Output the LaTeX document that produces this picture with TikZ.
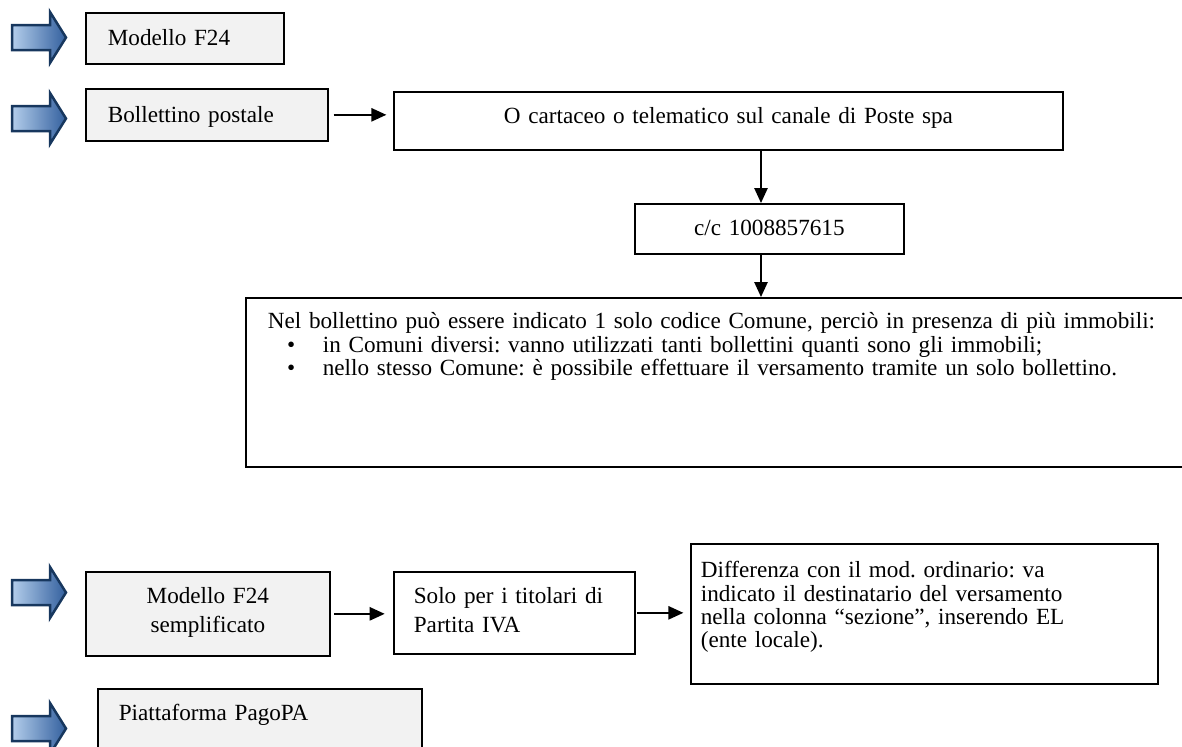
\documentclass[tikz,border=0pt]{standalone}
\usepackage{fontspec}
\setmainfont{Liberation Serif}
\usetikzlibrary{arrows.meta}
\definecolor{boxgrey}{HTML}{F2F2F2}
\definecolor{arrowline}{HTML}{17375E}
\definecolor{arrowlight}{HTML}{B3CDEB}
\definecolor{arrowdark}{HTML}{33609E}

\tikzset{
  box/.style={draw, line width=1pt, inner ysep=0pt, anchor=north west, align=left},
  greybox/.style={box, fill=boxgrey},
  link/.style={line width=1pt, -{Triangle[length=9pt,width=8pt]}},
}
\newcommand{\bigbullet}{\hspace*{11.5pt}\makebox[21.5pt][l]{\textbullet}}

\begin{document}
\frenchspacing
\begin{tikzpicture}[x=0.6pt, y=-0.6pt, every node/.style={font=\fontsize{13.9}{15}\selectfont}]
  \clip (0,0) rectangle (1182,747);
  % blue block arrows on the left
  \foreach \y in {12,93,567,703}
    \draw [arrowline, line width=1.5pt, left color=arrowlight, right color=arrowdark]
      (12,\y+13) -- (50,\y+13) -- (50,\y) -- (66,\y+25.5) -- (50,\y+51) -- (50,\y+38) -- (12,\y+38) -- cycle;

  \node [greybox, inner xsep=13.2pt, text width=92.4pt, text height=19.8pt, text depth=10.8pt] (f24) at (85,12) {Modello F24};
  \node [greybox, inner xsep=13.2pt, text width=118.8pt, text height=20.4pt, text depth=10.8pt] (bp) at (85,88) {Bollettino postale};
  \node [box, inner xsep=0pt, text width=401.4pt, align=center, text height=19.2pt, text depth=15.6pt] (tel) at (393,91) {O cartaceo o telematico sul canale di Poste spa};
  \node [box, inner xsep=0pt, text width=161.4pt, align=center, text height=19.2pt, text depth=10.8pt] (cc) at (634,203) {c/c 1008857615};
  \node [box, inner xsep=13.2pt, text width=546.6pt, text height=18.6pt, text depth=82.8pt, font=\fontsize{13.9}{14}\selectfont] (big) at (245,297)
    {Nel bollettino può essere indicato 1 solo codice Comune, perciò in presenza di più immobili:\\
     \bigbullet in Comuni diversi: vanno utilizzati tanti bollettini quanti sono gli immobili;\\
     \bigbullet nello stesso Comune: è possibile effettuare il versamento tramite un solo bollettino.};

  % F24 semplificato row
  \node [greybox, inner xsep=0pt, text width=146.4pt, align=center, text height=19.2pt, text depth=31.2pt, font=\fontsize{13.9}{17}\selectfont] (sem) at (85,571) {Modello F24\\semplificato};
  \node [box, inner xsep=12pt, text width=120.6pt, text height=19.2pt, text depth=30pt, font=\fontsize{13.9}{17}\selectfont] (solo) at (393,571) {Solo per i titolari di\\Partita IVA};
  \node [box, inner xsep=6pt, text width=268.2pt, text height=20.4pt, text depth=63.6pt, font=\fontsize{13.9}{14}\selectfont] (diff) at (690,543)
    {Differenza con il mod. ordinario: va\\indicato il destinatario del versamento\\nella colonna “sezione”, inserendo EL\\(ente locale).};
  \node [greybox, inner xsep=12.6pt, text width=169.2pt, text height=19.2pt, text depth=40pt] (pago) at (97,688) {Piattaforma PagoPA};

  \draw [link] ([xshift=3pt]bp.east) -- ([xshift=-4pt]bp.east -| tel.west);
  \draw [link] (761,0 |- tel.south) -- (761,0 |- cc.north);
  \draw [link] (761,0 |- cc.south) -- (761,0 |- big.north);
  \draw [link] ([xshift=2pt]sem.east) -- ([xshift=-5pt]sem.east -| solo.west);
  \draw [link] ([xshift=1pt]solo.east) -- ([xshift=-4pt]solo.east -| diff.west);
\end{tikzpicture}
\end{document}
